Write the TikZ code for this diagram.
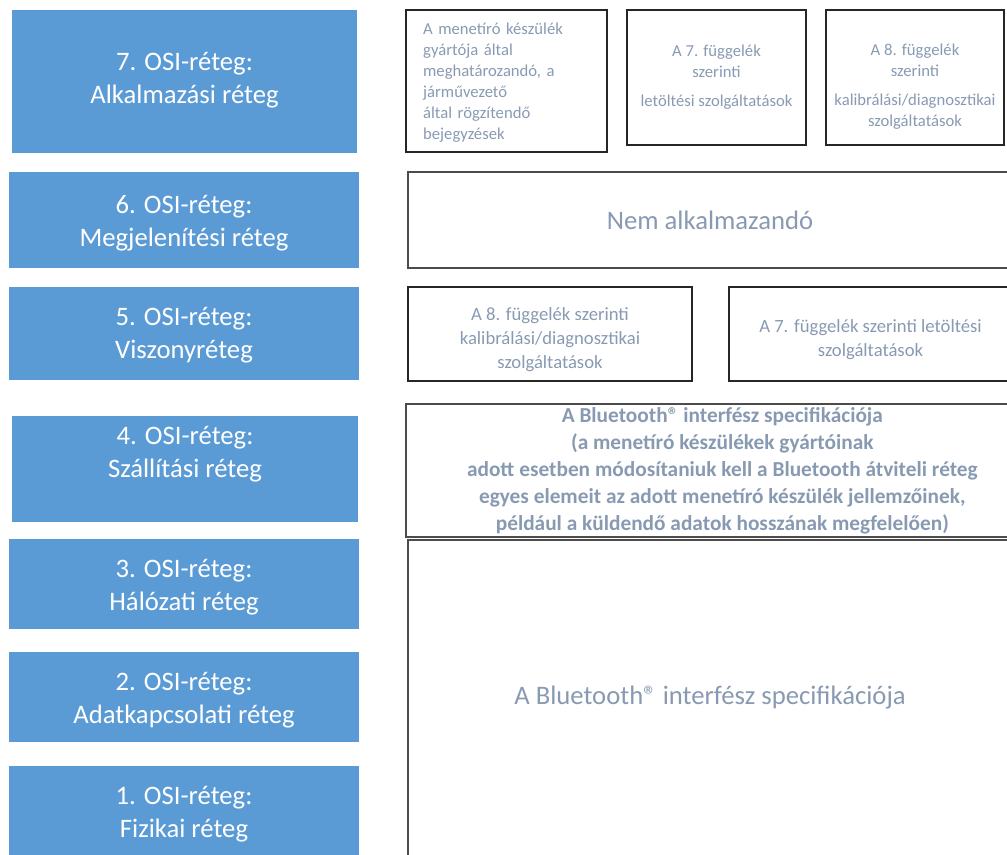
\documentclass[tikz,border=0pt]{standalone}
\usepackage{fontspec}
\setmainfont{Carlito}
\usetikzlibrary{fit}
\definecolor{osiblue}{RGB}{91,155,213}
\definecolor{txtgray}{RGB}{136,154,178}
\tikzset{
  osibox/.style={rectangle, fill=osiblue, draw=none, inner sep=0pt},
  ositext/.style={text=white, align=center, inner sep=0pt, font=\fontsize{20}{24.75}\selectfont},
  cell/.style={rectangle, draw=black!85, line width=1pt, inner sep=0pt},
  widecell/.style={cell, draw=black!70},
  celltext/.style={text=txtgray, align=center, inner sep=0pt, font=\fontsize{12.5}{15.75}\selectfont},
  midtext/.style={celltext, font=\fontsize{14}{18}\selectfont},
  bigtext/.style={celltext, font=\fontsize{20}{24}\selectfont},
  boldtext/.style={celltext, font=\bfseries\fontsize{16}{20.25}\selectfont},
}

\begin{document}
\begin{tikzpicture}[x=0.75pt, y=-0.75pt]
  \useasboundingbox (0,0) rectangle (1007,854);
  \clip (0,0) rectangle (1007,854);
  % OSI layers
  \node[osibox, fit={(12,10) (357,153)}] (l7) {};
  \node[osibox, fit={(9,172) (359,268)}] (l6) {};
  \node[osibox, fit={(9,287) (359,380)}] (l5) {};
  \node[osibox, fit={(12,416) (358,522)}] (l4) {};
  \node[osibox, fit={(9,539) (359,629)}] (l3) {};
  \node[osibox, fit={(9,652) (359,742)}] (l2) {};
  \node[osibox, fit={(9,766) (359,856)}] (l1) {};
  \node[ositext] (l7t) at ([yshift=1pt]l7.center) {7. OSI-réteg:\\Alkalmazási réteg};
  \node[ositext] (l6t) at ([yshift=-2.5pt]l6.center) {6. OSI-réteg:\\Megjelenítési réteg};
  \node[ositext] (l5t) at ([yshift=-1.5pt]l5.center) {5. OSI-réteg:\\Viszonyréteg};
  \node[ositext] (l4t) at ([yshift=11pt]l4.center) {4. OSI-réteg:\\Szállítási réteg};
  \node[ositext] (l3t) at ([yshift=-2.5pt]l3.center) {3. OSI-réteg:\\Hálózati réteg};
  \node[ositext] (l2t) at ([yshift=-2.5pt]l2.center) {2. OSI-réteg:\\Adatkapcsolati réteg};
  \node[ositext] (l1t) at ([yshift=-2.5pt]l1.center) {1. OSI-réteg:\\Fizikai réteg};
  % application layer
  \node[cell, fit={(406,10) (607,152)}] (rec) {};
  \node[cell, fit={(627,10) (806,145)}] (dl7) {};
  \node[cell, fit={(826,10) (1004,145)}] (cal7) {};
  \node[celltext, text width=125pt, align=left] (rect) at ([yshift=-1pt]rec.center)
    {A menetíró készülék\\gyártója által\\meghatározandó, a\\járművezető\\által rögzítendő\\bejegyzések};
  \node[celltext] (dl7t) at (dl7.center)
    {A 7. függelék\\szerinti\\[6pt]letöltési szolgáltatások};
  \node[celltext] (cal7t) at ([yshift=-7pt]cal7.center)
    {A 8. függelék\\szerinti\\[6pt]kalibrálási/diagnosztikai\\szolgáltatások};
  % presentation, session
  \node[widecell, fit={(408,172) (1012,268)}] (na) {};
  \node[bigtext] (nat) at (na.center) {Nem alkalmazandó};
  \node[cell, fit={(408,287) (692,381)}] (cal5) {};
  \node[cell, fit={(729,287) (1012,381)}] (dl5) {};
  \node[midtext] (cal5t) at ([yshift=-4pt]cal5.center)
    {A 8. függelék szerinti\\kalibrálási/diagnosztikai\\szolgáltatások};
  \node[midtext] (dl5t) at ([yshift=-4pt]dl5.center)
    {A 7. függelék szerinti letöltési\\szolgáltatások};
  % transport
  \node[widecell, fit={(406,404) (1012,537)}] (bt4) {};
  \node[boldtext] (bt4t) at ([xshift=10pt]bt4.center)
    {A Bluetooth® interfész specifikációja\\(a menetíró készülékek gyártóinak\\adott esetben módosítaniuk kell a Bluetooth átviteli réteg\\egyes elemeit az adott menetíró készülék jellemzőinek,\\például a küldendő adatok hosszának megfelelően)};
  % network, data link, physical
  \node[widecell, fit={(408,540) (1012,856)}] (bt) {};
  \node[bigtext] (btt) at (bt.center) {A Bluetooth® interfész specifikációja};
\end{tikzpicture}
\end{document}
